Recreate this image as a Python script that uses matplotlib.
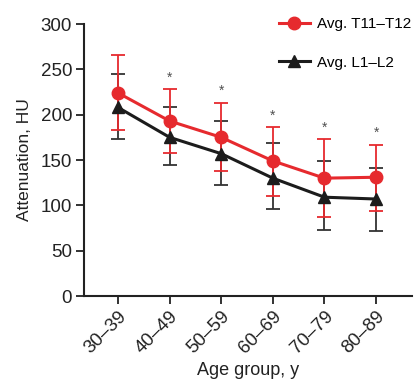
import matplotlib.pyplot as plt
import numpy as np

plt.rcParams['font.family'] = ['Liberation Sans', 'DejaVu Sans']

groups = ['30–39', '40–49', '50–59', '60–69', '70–79', '80–89']
t_mean = [224, 193, 175, 149, 130, 131]
t_upper = [266, 228, 213, 186, 173, 167]
t_lower = [183, 158, 138, 110, 87, 94]
l_mean = [208, 175, 157, 130, 109, 107]
l_upper = [245, 208, 193, 169, 149, 141]
l_lower = [173, 145, 122, 96, 73, 72]
significant = [False, True, True, True, True, True]

red = '#e62a2e'
black = '#1c1c1c'

x = np.arange(len(groups))
t_err = [np.array(t_mean) - np.array(t_lower), np.array(t_upper) - np.array(t_mean)]
l_err = [np.array(l_mean) - np.array(l_lower), np.array(l_upper) - np.array(l_mean)]

fig = plt.figure(figsize=(4.17, 3.81), dpi=100)
ax = fig.add_axes([0.2014, 0.223, 0.787, 0.714])

# error bars first, markers on top
ax.errorbar(x, l_mean, yerr=l_err, fmt='none', ecolor='#333333', elinewidth=1.3,
            capsize=5, capthick=1.3, zorder=2)
ax.errorbar(x, t_mean, yerr=t_err, fmt='none', ecolor=red, elinewidth=1.3,
            capsize=5, capthick=1.3, zorder=3)
ax.plot(x, t_mean, color=red, lw=2.2, marker='o', ms=9, label='Avg. T11–T12', zorder=4)
ax.plot(x, l_mean, color=black, lw=2.2, marker='^', ms=8, label='Avg. L1–L2', zorder=5)

for i in range(len(x)):
    if significant[i]:
        ax.text(x[i], t_upper[i] + 13, '*', ha='center', va='center', fontsize=10, color='#505050')

ax.set_xlim(-0.66, 5.7)
ax.set_ylim(0, 300)
ax.set_yticks([0, 50, 100, 150, 200, 250, 300])
ax.set_xticks(x)
ax.set_xticklabels(groups, rotation=45, ha='right', rotation_mode='anchor')

for s in ['top', 'right']:
    ax.spines[s].set_visible(False)
for s in ['left', 'bottom']:
    ax.spines[s].set_linewidth(1.5)
    ax.spines[s].set_color('#222222')
ax.tick_params(direction='out', length=5.5, width=1.3, color='#222222', labelsize=13.5,
               labelcolor='#222222')
ax.tick_params(axis='x', pad=3)
ax.tick_params(axis='y', pad=3)

ax.set_xlabel('Age group, y', fontsize=13, color='#222222', labelpad=4)
ax.set_ylabel('Attenuation, HU', fontsize=12.5, color='#222222', labelpad=6)

ax.legend(loc='upper right', bbox_to_anchor=(1.04, 1.075), frameon=False, fontsize=11,
          handlelength=2.0, labelspacing=1.6, handletextpad=0.5)

fig.savefig('out.png', dpi=100)
